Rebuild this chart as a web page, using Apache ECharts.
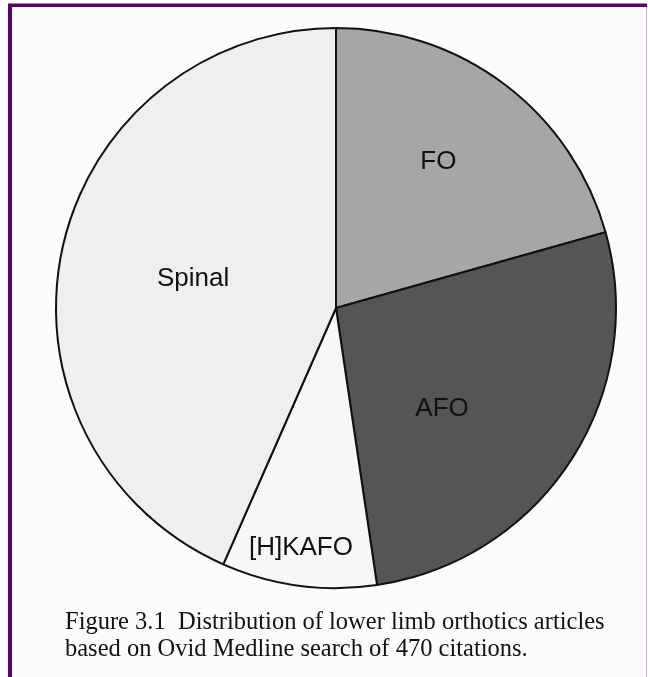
<!DOCTYPE html>
<html>
<head>
<meta charset="utf-8">
<script src="https://cdn.jsdelivr.net/npm/echarts@6/dist/echarts.min.js"></script>
<style>
  html, body { margin: 0; padding: 0; background: #ffffff; }
  #chart { width: 648px; height: 677px; }
</style>
</head>
<body>
<div id="chart"></div>
<script>
// article counts (470 citations in total)
const categories = ['FO', 'AFO', '[H]KAFO', 'Spinal'];
const counts = [97, 127, 42, 204];
const sliceColors = ['#a6a6a6', '#555555', '#f7f7f7', '#efefef'];
// label nudges from the default inside position, per slice
const labelShift = [[16, -32], [-14, 23], [-16, 98], [-3, 0]];
const captionLines = [
  'Figure 3.1  Distribution of lower limb orthotics articles',
  'based on Ovid Medline search of 470 citations.'
];

const chart = echarts.init(document.getElementById('chart'));

chart.setOption({
  backgroundColor: '#ffffff',
  animation: false,
  graphic: [
    { type: 'rect', shape: { x: 12, y: 7, width: 634, height: 670 }, style: { fill: '#fcfcfc' }, z: -10 },
    { type: 'rect', shape: { x: 8, y: 3, width: 639, height: 1 }, style: { fill: '#a77fb3' } },
    { type: 'rect', shape: { x: 8, y: 4, width: 639, height: 3 }, style: { fill: '#5c006c' } },
    { type: 'rect', shape: { x: 8, y: 4, width: 4, height: 673 }, style: { fill: '#5c006c' } },
    { type: 'rect', shape: { x: 646, y: 7, width: 1, height: 670 }, style: { fill: '#c9b0d4' } },
    {
      type: 'text', left: 65, top: 610,
      style: { text: captionLines[0], font: '24.5px "Liberation Serif"', fill: '#111' }
    },
    {
      type: 'text', left: 65, top: 637,
      style: { text: captionLines[1], font: '24.5px "Liberation Serif"', fill: '#111' }
    }
  ],
  series: [{
    type: 'pie',
    center: [336, 308],
    radius: 280,
    startAngle: 90,
    clockwise: true,
    silent: true,
    itemStyle: { borderColor: '#111', borderWidth: 2 },
    label: {
      show: true,
      position: 'inside',
      formatter: '{b}',
      fontFamily: '"Liberation Sans", Arial, sans-serif',
      fontSize: 26,
      color: '#111'
    },
    labelLine: { show: false },
    labelLayout: function (params) {
      const s = labelShift[params.dataIndex];
      return { dx: s[0], dy: s[1] };
    },
    data: categories.map((name, i) => ({
      name: name,
      value: counts[i],
      itemStyle: { color: sliceColors[i] }
    }))
  }]
});
</script>
</body>
</html>
